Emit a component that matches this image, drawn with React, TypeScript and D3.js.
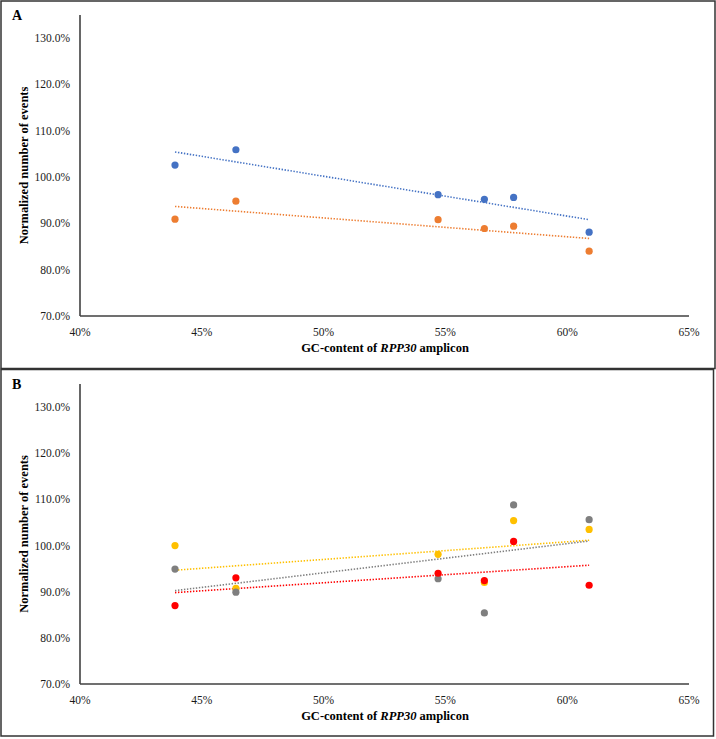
import React from "react";
import * as d3 from "d3";

// GC-content (%) of each amplicon
const gcContent = [43.9, 46.4, 54.7, 56.6, 57.8, 60.9];

// Panel A series
const seriesA_blue = [102.6, 105.9, 96.2, 95.2, 95.6, 88.1];
const seriesA_orange = [90.9, 94.8, 90.8, 88.9, 89.4, 84.0];

// Panel B series
const seriesB_yellow = [100.0, 90.7, 98.1, 92.0, 105.4, 103.5];
const seriesB_grey = [94.9, 89.9, 92.8, 85.4, 108.8, 105.6];
const seriesB_red = [87.0, 93.0, 94.0, 92.4, 100.9, 91.4];

const xTicks = [40, 45, 50, 55, 60, 65];
const yTicks = [70, 80, 90, 100, 110, 120, 130];

type Series = { values: number[]; color: string };

const panelA: Series[] = [
  { values: seriesA_blue, color: "#4472C4" },
  { values: seriesA_orange, color: "#ED7D31" },
];
const panelB: Series[] = [
  { values: seriesB_yellow, color: "#FFC000" },
  { values: seriesB_grey, color: "#7F7F7F" },
  { values: seriesB_red, color: "#FF0000" },
];

function regression(xs: number[], ys: number[]) {
  const mx = d3.mean(xs)!;
  const my = d3.mean(ys)!;
  let sxy = 0, sxx = 0;
  xs.forEach((x, i) => {
    sxy += (x - mx) * (ys[i] - my);
    sxx += (x - mx) * (x - mx);
  });
  const b = sxy / sxx;
  return (x: number) => my + b * (x - mx);
}

const FONT = "'Liberation Serif', 'Times New Roman', serif";

function Panel({ top, bottomY, series, letter }: { top: number; bottomY: number; series: Series[]; letter: string }) {
  const x = d3.scaleLinear().domain([40, 65]).range([80, 689]);
  const y = d3.scaleLinear().domain([70, 135]).range([bottomY, top]);
  const [xmin, xmax] = d3.extent(gcContent) as [number, number];
  return (
    <g>
      <text x={12} y={top + 5} fontFamily={FONT} fontWeight="bold" fontSize={14} fill="#000">{letter}</text>
      {/* trendlines */}
      {series.map((s, i) => {
        const f = regression(gcContent, s.values);
        return (
          <line key={"t" + i} x1={x(xmin)} y1={y(f(xmin))} x2={x(xmax)} y2={y(f(xmax))}
            stroke={s.color} strokeWidth={1.6} strokeDasharray="1.4 1.6" />
        );
      })}
      {/* points */}
      {series.map((s, i) => (
        <g key={"p" + i}>
          {s.values.map((v, j) => (
            <circle key={j} cx={x(gcContent[j])} cy={y(v)} r={3.6} fill={s.color} />
          ))}
        </g>
      ))}
      {/* axes */}
      <line x1={x(40)} y1={y(135)} x2={x(40)} y2={y(70)} stroke="#404040" strokeWidth={1.6} />
      <line x1={x(40)} y1={y(70)} x2={x(65)} y2={y(70)} stroke="#404040" strokeWidth={1.6} />
      {yTicks.map((t) => (
        <text key={t} x={70} y={y(t)} dy="0.35em" textAnchor="end" fontFamily={FONT} fontSize={11.5} fill="#1a1a1a">
          {t.toFixed(1) + "%"}
        </text>
      ))}
      {xTicks.map((t) => (
        <text key={t} x={x(t)} y={bottomY + 20} textAnchor="middle" fontFamily={FONT} fontSize={11.5} fill="#1a1a1a">
          {t + "%"}
        </text>
      ))}
      <text x={385} y={bottomY + 36} textAnchor="middle" fontFamily={FONT} fontWeight="bold" fontSize={12.5} fill="#000">
        GC-content of <tspan fontStyle="italic">RPP30</tspan> amplicon
      </text>
      <text transform={`translate(28, ${(top + bottomY) / 2}) rotate(-90)`} textAnchor="middle" fontFamily={FONT}
        fontWeight="bold" fontSize={12.5} fill="#000">
        Normalized number of events
      </text>
    </g>
  );
}

export default function App() {
  return (
    <svg width={716} height={739} style={{ position: "absolute", left: 0, top: 0, background: "#fff" }}>
      <rect x={0} y={0} width={716} height={739} fill="#fff" />
      <rect x={1} y={1} width={714} height={367.5} fill="none" stroke="#333" strokeWidth={1.5} />
      <rect x={1} y={369.5} width={712.5} height={366.5} fill="none" stroke="#333" strokeWidth={1.5} />
      <Panel top={15} bottomY={316} series={panelA} letter="A" />
      <Panel top={384} bottomY={684} series={panelB} letter="B" />
    </svg>
  );
}
